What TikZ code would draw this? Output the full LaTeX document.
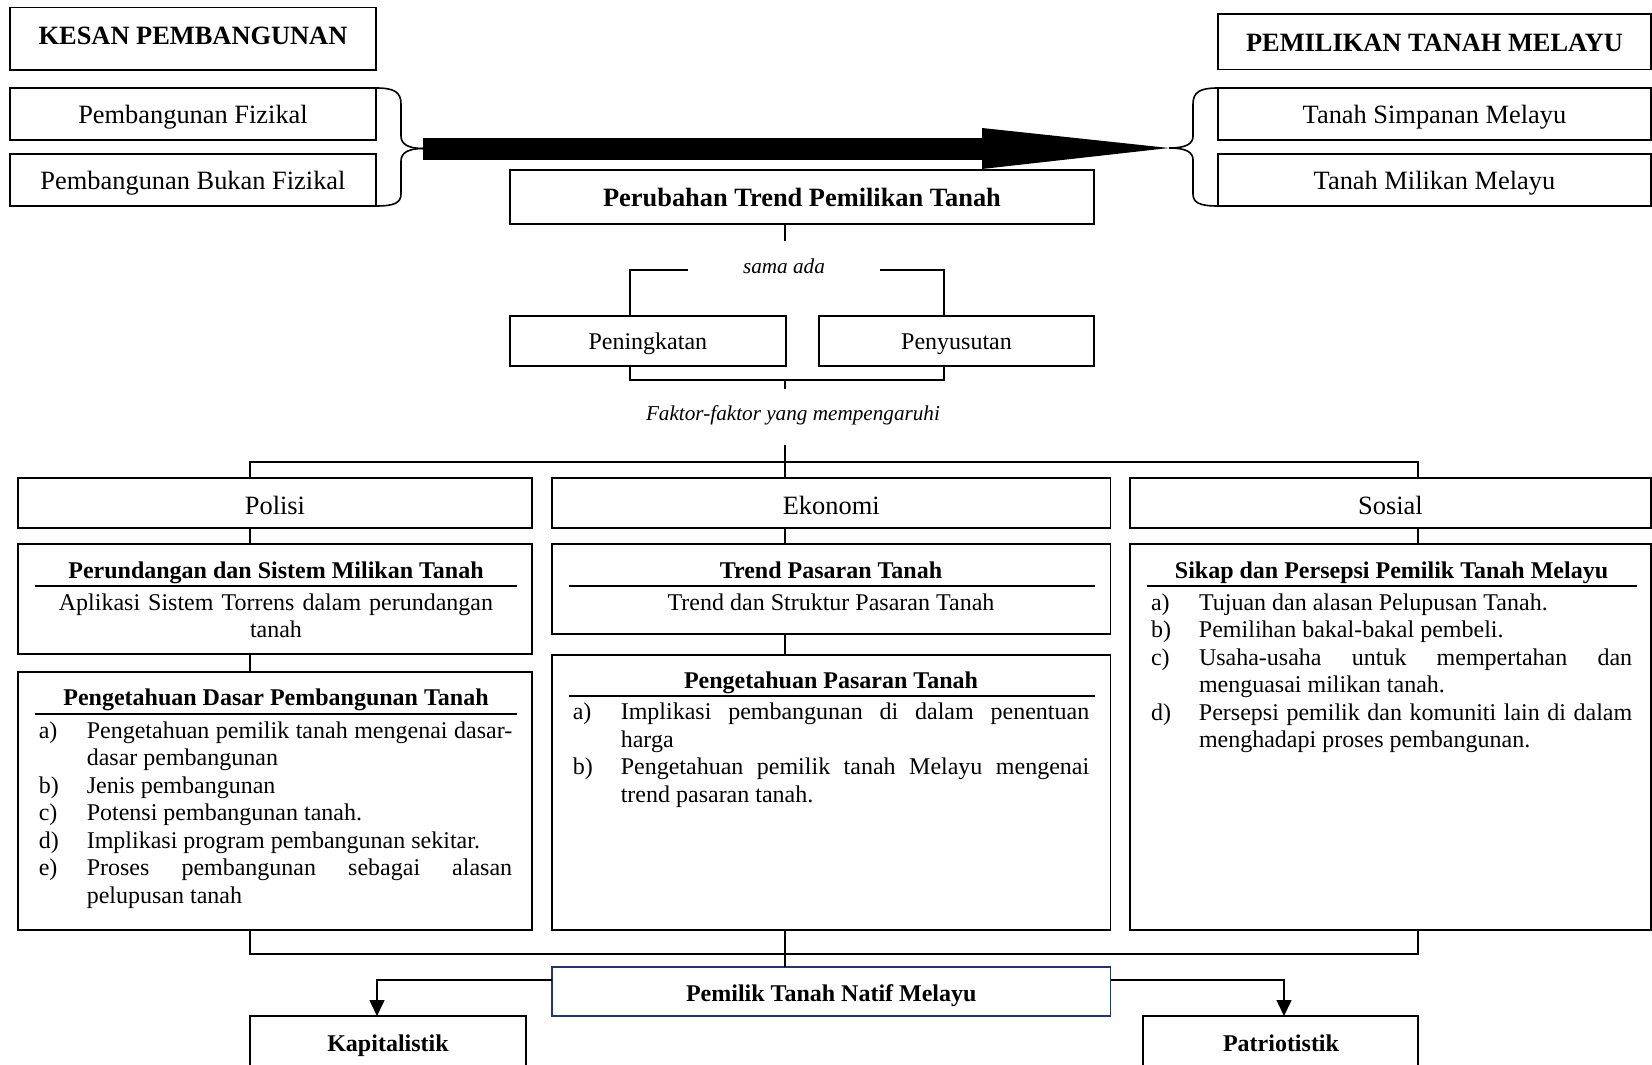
\documentclass[tikz,border=0pt]{standalone}
\usepackage{fontspec}
\setmainfont{Liberation Serif}
\usetikzlibrary{arrows.meta,calc}
\definecolor{navy}{RGB}{31,56,100}
\newlength\lblw
\setlength\lblw{48pt}
\newcommand\litem[2]{\hangindent=\lblw\hangafter=1\noindent\makebox[\lblw][l]{#1}#2\par}
\newcommand\dn[2]{\raisebox{-#1pt}[\height][\depth]{#2}}
\hyphenpenalty=10000
\exhyphenpenalty=10000
\tolerance=10000
\tikzset{
  box/.style={draw, line width=1.6pt, rectangle, inner sep=0pt, outer sep=0pt, anchor=north west},
  tbox/.style={draw, line width=1.1pt, rectangle, inner sep=0pt, outer sep=0pt, anchor=north west},
  conn/.style={line width=1.6pt},
  big/.style={font=\fontsize{26.4}{30}\selectfont},
  bigb/.style={font=\fontsize{26.4}{30}\selectfont\bfseries},
  mid/.style={font=\fontsize{24}{27.5}\selectfont},
  midb/.style={font=\fontsize{24}{27.5}\selectfont\bfseries},
  ital/.style={font=\fontsize{21.2}{25}\selectfont\itshape, inner sep=0pt},
  lst/.style={inner sep=0pt, anchor=base west, align=justify, font=\fontsize{24}{27.5}\selectfont},
  hd/.style={inner sep=0pt, anchor=base, font=\fontsize{24}{27.5}\selectfont\bfseries},
  rule/.style={line width=1.8pt},
}
\begin{document}
\begin{tikzpicture}[x=1pt,y=-1pt]
\useasboundingbox (0,0) rectangle (1652,1065);
\fill[white] (0,0) rectangle (1652,1065);
\clip (0,0) rectangle (1652,1065);

% top left
\node[box, bigb, minimum width=366pt, minimum height=62.5pt] (kesan) at (10,7.5) {\dn{-3}{KESAN PEMBANGUNAN}};
\node[tbox, big, minimum width=366pt, minimum height=52pt] (fiz) at (10,88) {\dn{3}{Pembangunan Fizikal}};
\node[tbox, big, minimum width=366pt, minimum height=52pt] (bfiz) at (10,154) {\dn{3}{Pembangunan Bukan Fizikal}};

% top right
\node[box, bigb, minimum width=433pt, minimum height=55.5pt] (pemil) at (1218,14) {\dn{1}{PEMILIKAN TANAH MELAYU}};
\node[tbox, big, minimum width=433pt, minimum height=52pt] (simp) at (1218,88) {\dn{3}{Tanah Simpanan Melayu}};
\node[tbox, big, minimum width=433pt, minimum height=52pt] (milk) at (1218,154) {\dn{3}{Tanah Milikan Melayu}};

% braces and big arrow
\coordinate (lt) at (423,148.5);
\coordinate (rt) at (1169,148);
\coordinate (hb) at (982,148.5);
\draw[conn] (fiz.north east) .. controls (394,88) and (401,92) .. (401,104) -- (401,136) .. controls (401,144) and (408,148.5) .. (lt);
\draw[conn] (lt) .. controls (408,148.5) and (401,153) .. (401,161) -- (401,194) .. controls (401,203) and (394,206) .. (bfiz.south east);
\draw[conn] (simp.north west) .. controls (1200,88) and (1193,92) .. (1193,104) -- (1193,136) .. controls (1193,144) and (1186,148) .. (rt);
\draw[conn] (rt) .. controls (1186,148) and (1193,152) .. (1193,160) -- (1193,194) .. controls (1193,203) and (1200,206) .. (milk.south west);
\draw[line width=22pt] (lt) -- (hb);
\fill ($(hb)+(0,-20.5)$) -- (rt) -- ($(hb)+(0,20.5)$) -- cycle;

% centre column
\node[box, bigb, minimum width=584pt, minimum height=54pt] (peru) at (510,170) {\dn{1}{Perubahan Trend Pemilikan Tanah}};
\coordinate (sa) at (785,241);
\draw[conn] (785,0 |- peru.south) -- (sa);
\node[ital] (sama) at (784,266) {sama ada};
\node[box, mid, minimum width=275.7pt, minimum height=50pt] (ping) at (510,316) {\dn{3}{Peningkatan}};
\node[box, mid, minimum width=275pt, minimum height=50pt] (peny) at (819,316) {\dn{3}{Penyusutan}};
\coordinate (sal) at (688,270);
\coordinate (sar) at (880,270);
\draw[conn] (sal) -| (630,0 |- ping.north);
\draw[conn] (sar) -| (944,0 |- peny.north);
\coordinate (brk) at (785,380);
\coordinate (fk1) at (785,389);
\draw[conn] (630,0 |- ping.south) -- (630,380) -- (944,380) -- (944,0 |- peny.south);
\draw[conn] (brk) -- (fk1);
\node[ital] (faktor) at (793,415) {Faktor-faktor yang mempengaruhi};
\coordinate (fk2) at (785,445);

% three columns: headers
\node[box, big, minimum width=514pt, minimum height=50pt] (pol) at (18,478) {\dn{2}{Polisi}};
\node[box, big, minimum width=558.5pt, minimum height=50pt] (eko) at (552,478) {\dn{2}{Ekonomi}};
\node[box, big, minimum width=521pt, minimum height=50pt] (sos) at (1130,478) {\dn{2}{Sosial}};
\draw[conn] (fk2) -- (785,0 |- eko.north);
\draw[conn] (250,0 |- pol.north) -- (250,462) -- (1418,462) -- (1418,0 |- sos.north);

% sub boxes
\node[box, minimum width=514pt, minimum height=110pt] (pol1) at (18,544) {};
\node[box, minimum width=514pt, minimum height=258.3pt] (pol2) at (18,671.7) {};
\node[box, minimum width=558.5pt, minimum height=90pt] (eko1) at (552,544) {};
\node[box, minimum width=558.5pt, minimum height=275pt] (eko2) at (552,655) {};
\node[box, minimum width=521pt, minimum height=386pt] (sos1) at (1130,544) {};

\draw[conn] (250,0 |- pol.south) -- (250,0 |- pol1.north);
\draw[conn] (250,0 |- pol1.south) -- (250,0 |- pol2.north);
\draw[conn] (785,0 |- eko.south) -- (785,0 |- eko1.north);
\draw[conn] (785,0 |- eko1.south) -- (785,0 |- eko2.north);
\draw[conn] (1418,0 |- sos.south) -- (1418,0 |- sos1.north);

% Polisi contents
\node[hd] (polh1) at (276,578) {Perundangan dan Sistem Milikan Tanah};
\draw[rule] (35,586) -- (517,586);
\node[inner sep=0pt, anchor=base, text width=480pt, align=center, mid] (polt1) at (276,610) {Aplikasi Sistem Torrens dalam perundangan\\tanah};
\node[hd] (polh2) at (276,705.7) {Pengetahuan Dasar Pembangunan Tanah};
\draw[rule] (35,714) -- (517,714);
\node[lst, text width=473.4pt] (pollist) at (38.6,738) {%
\litem{a)}{Pengetahuan pemilik tanah mengenai dasar-\linebreak dasar pembangunan}%
\litem{b)}{Jenis pembangunan}%
\litem{c)}{Potensi pembangunan tanah.}%
\litem{d)}{Implikasi program pembangunan sekitar.}%
\litem{e)}{Proses pembangunan sebagai alasan\linebreak pelupusan tanah}};

% Ekonomi contents
\node[hd] (ekoh1) at (831,578) {Trend Pasaran Tanah};
\draw[rule] (569,586) -- (1095,586);
\node[inner sep=0pt, anchor=base, mid] (ekot1) at (831,610) {Trend dan Struktur Pasaran Tanah};
\node[hd] (ekoh2) at (831,688.7) {Pengetahuan Pasaran Tanah};
\draw[rule] (569,696) -- (1095,696);
\node[lst, text width=516.4pt] (ekolist) at (572.6,719.7) {%
\litem{a)}{Implikasi pembangunan di dalam penentuan\linebreak harga}%
\litem{b)}{Pengetahuan pemilik tanah Melayu mengenai\linebreak trend pasaran tanah.}};

% Sosial contents
\node[hd] (sosh1) at (1391.5,578) {Sikap dan Persepsi Pemilik Tanah Melayu};
\draw[rule] (1147,586) -- (1637,586);
\node[lst, text width=481.2pt] (soslist) at (1150.8,610) {%
\litem{a)}{Tujuan dan alasan Pelupusan Tanah.}%
\litem{b)}{Pemilihan bakal-bakal pembeli.}%
\litem{c)}{Usaha-usaha untuk mempertahan dan\linebreak menguasai milikan tanah.}%
\litem{d)}{Persepsi pemilik dan komuniti lain di dalam\linebreak menghadapi proses pembangunan.}};

% bottom
\node[box, draw=navy, midb, minimum width=558.5pt, minimum height=49.3pt] (natif) at (552,966.7) {\dn{4}{Pemilik Tanah Natif Melayu}};
\draw[conn] (250,0 |- pol2.south) -- (250,954) -- (1418,954) -- (1418,0 |- sos1.south);
\draw[conn] (785,0 |- eko2.south) -- (785,0 |- natif.north);
\node[box, minimum width=275.7pt, minimum height=80pt] (kap) at (250,1016) {};
\node[box, minimum width=275pt, minimum height=80pt] (pat) at (1143,1016) {};
\node[hd] (kapt) at (388,1051) {Kapitalistik};
\node[hd] (patt) at (1281,1051) {Patriotistik};
\draw[conn, -{Triangle[length=16pt,width=15pt]}] (natif.west |- 0,980) -| (377,0 |- kap.north);
\draw[conn, -{Triangle[length=16pt,width=15pt]}] (natif.east |- 0,980) -| (1284,0 |- pat.north);
\end{tikzpicture}
\end{document}
